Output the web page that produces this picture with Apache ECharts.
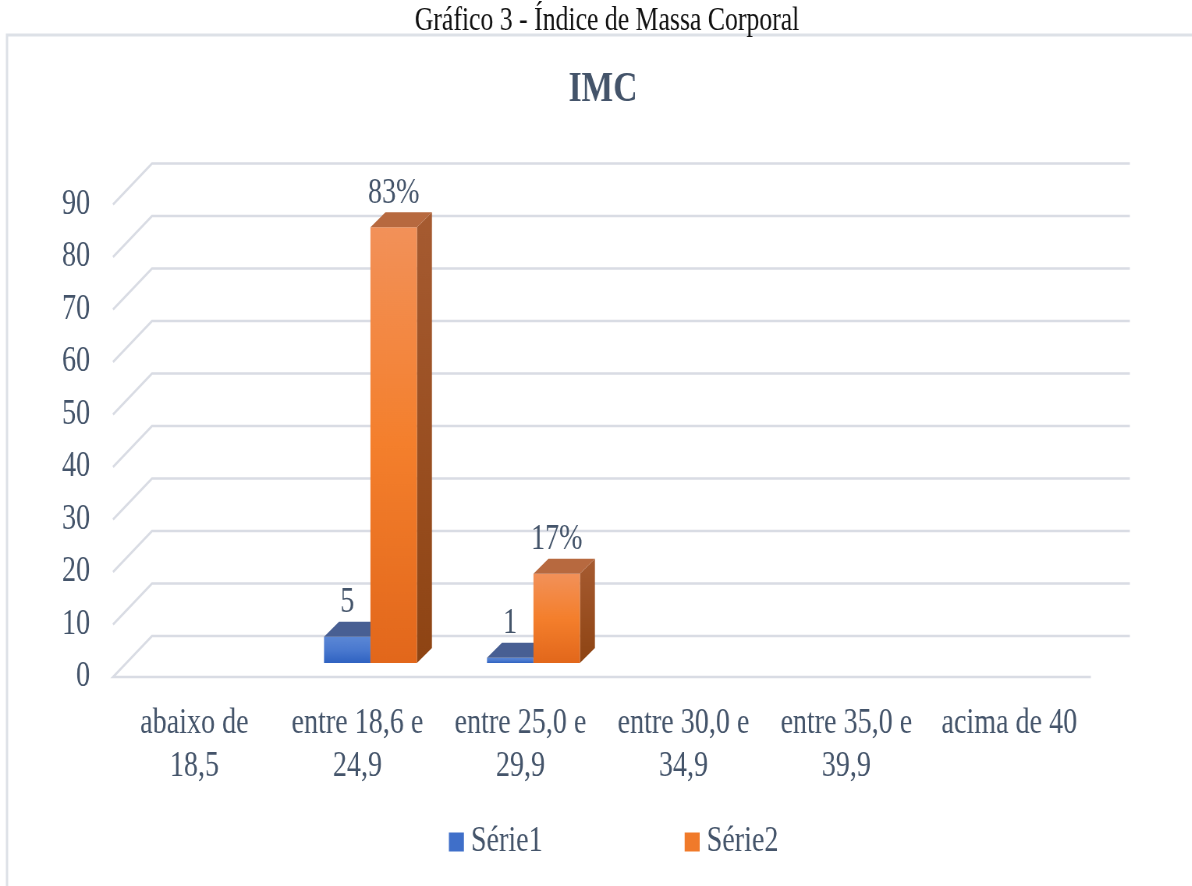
<!DOCTYPE html>
<html>
<head>
<meta charset="utf-8">
<script src="https://cdn.jsdelivr.net/npm/echarts@6/dist/echarts.min.js"></script>
<style>
  html, body { margin: 0; padding: 0; background: #fff; overflow: hidden; }
  #chart { height: 886px; transform-origin: 0 0; }
</style>
</head>
<body>
<div id="chart"></div>
<script>
// ---- data ----
const categories = [
  'abaixo de\n18,5',
  'entre 18,6 e\n24,9',
  'entre 25,0 e\n29,9',
  'entre 30,0 e\n34,9',
  'entre 35,0 e\n39,9',
  'acima de 40'
];
const serie1 = [0, 5, 1, 0, 0, 0];       // counts
const serie2 = [0, 83, 17, 0, 0, 0];     // percentages
const yTicks = [0, 10, 20, 30, 40, 50, 60, 70, 80, 90];
const seriesNames = ['Série1', 'Série2'];
const chartTitle = 'IMC';
const captionText = 'Gráfico 3 - Índice de Massa Corporal';

// ---- layout: the chart is drawn wide, then condensed horizontally ----
const SX = 0.78;
const W = 1192 / SX;
const X = px => px / SX;          // on-screen x -> drawing x
const el = document.getElementById('chart');
el.style.width = W + 'px';
el.style.transform = 'scaleX(' + SX + ')';

// ---- styling / 3D geometry ----
const FONT = "'Liberation Serif', 'Times New Roman', serif";
const TEXT = '#44546a';
const GRID_LINE = '#d9dce4';
const BACK = [X(39), 41];    // floor edge -> back wall offset
const FACE = [X(13), 14];    // floor edge -> bar front face offset
const DEPTH = [X(15), 15];   // bar thickness
const BAR_RATIO = 0.285;

const palettes = {
  blue: {
    front: ['#5b87d5', '#4a79cf', '#2f62c1'],
    side: ['#3a5a9c', '#2b4a88'],
    top: '#485f93'
  },
  orange: {
    front: ['#f29159', '#f47f2c', '#e2671b'],
    side: ['#a65b31', '#8e4413'],
    top: '#b7693f'
  }
};

function vGrad(stops) {
  return {
    type: 'linear', x: 0, y: 0, x2: 0, y2: 1,
    colorStops: stops.map((c, i) => ({ offset: i / (stops.length - 1), color: c }))
  };
}

function barRenderer(side, pal, fmt) {
  return function (params, api) {
    const v = api.value(1);
    if (!v) return null;
    const cat = api.value(0);
    const p0 = api.coord([cat, 0]);
    const p1 = api.coord([cat, v]);
    const bw = api.size([1, 0])[0] * BAR_RATIO;
    const cx = p0[0] + FACE[0];
    const x0 = side < 0 ? cx - bw : cx;
    const x1 = x0 + bw;
    const yb = p0[1] - FACE[1];
    const yt = p1[1] - FACE[1];
    const dx = DEPTH[0], dy = DEPTH[1];
    return {
      type: 'group',
      children: [
        {
          type: 'polygon',
          shape: { points: [[x1, yt], [x1 + dx, yt - dy], [x1 + dx, yb - dy], [x1, yb]] },
          style: { fill: vGrad(pal.side) }
        },
        {
          type: 'rect',
          shape: { x: x0, y: yt, width: bw, height: yb - yt },
          style: { fill: vGrad(pal.front) }
        },
        {
          type: 'polygon',
          shape: { points: [[x0, yt], [x1, yt], [x1 + dx, yt - dy], [x0 + dx, yt - dy]] },
          style: { fill: pal.top }
        },
        {
          type: 'text',
          style: {
            text: fmt(v),
            x: (x0 + x1) / 2,
            y: yt - dy - 1,
            align: 'center',
            verticalAlign: 'bottom',
            fontSize: 36,
            fontFamily: FONT,
            fill: TEXT
          }
        }
      ]
    };
  };
}

// back wall, side wall and floor lines at each tick
function wallRenderer(params, api) {
  const v = api.value(1);
  const cs = params.coordSys;
  const y = api.coord([0, v])[1];
  const xl = cs.x, xr = cs.x + cs.width;
  const bl = [xl + BACK[0], y - BACK[1]];
  const br = [xr + BACK[0], y - BACK[1]];
  const pts = v === 0 ? [[xr, y], [xl, y], bl, br] : [[xl, y], bl, br];
  return {
    type: 'polyline',
    shape: { points: pts },
    style: { stroke: GRID_LINE, lineWidth: 2.5, fill: null }
  };
}

const chart = echarts.init(el);

chart.setOption({
  backgroundColor: '#ffffff',
  animation: false,
  graphic: [
    {
      type: 'rect',
      shape: { x: X(7), y: 35, width: W, height: 900 },
      style: { fill: null, stroke: '#dde1e7', lineWidth: 3 },
      silent: true
    },
    {
      type: 'text',
      style: {
        text: captionText, x: X(607), y: 21, align: 'center', verticalAlign: 'middle',
        fontSize: 33, fontFamily: FONT, fill: '#111111'
      }
    },
    {
      type: 'text',
      style: {
        text: chartTitle, x: X(603), y: 90, align: 'center', verticalAlign: 'middle',
        fontSize: 43, fontWeight: 'bold', fontFamily: FONT, fill: TEXT
      }
    }
  ],
  grid: { left: X(113), right: W - X(1091), top: 204.5, bottom: 209, containLabel: false },
  legend: {
    data: seriesNames,
    left: X(445),
    top: 819,
    icon: 'rect',
    itemWidth: X(15),
    itemHeight: 19,
    itemGap: X(142),
    textStyle: { fontSize: 36, fontFamily: FONT, color: TEXT, padding: [0, 0, 0, 4] }
  },
  xAxis: {
    type: 'category',
    data: categories,
    axisLine: { show: false },
    axisTick: { show: false },
    splitLine: { show: false },
    axisLabel: {
      interval: 0, margin: 25, fontSize: 36, lineHeight: 43,
      fontFamily: FONT, color: TEXT
    }
  },
  yAxis: {
    type: 'value',
    min: 0,
    max: 90,
    interval: 10,
    axisLine: { show: false },
    axisTick: { show: false },
    splitLine: { show: false },
    axisLabel: { margin: X(23), fontSize: 36, fontFamily: FONT, color: TEXT }
  },
  series: [
    {
      name: 'walls',
      type: 'custom',
      silent: true,
      clip: false,
      renderItem: wallRenderer,
      data: yTicks.map(t => [0, t]),
      z: 1
    },
    {
      name: seriesNames[0],
      type: 'custom',
      clip: false,
      itemStyle: { color: '#3f6fc9' },
      renderItem: barRenderer(-1, palettes.blue, v => String(v)),
      data: serie1.map((v, i) => [i, v]),
      z: 2
    },
    {
      name: seriesNames[1],
      type: 'custom',
      clip: false,
      itemStyle: { color: '#f07a2a' },
      renderItem: barRenderer(1, palettes.orange, v => v + '%'),
      data: serie2.map((v, i) => [i, v]),
      z: 3
    }
  ]
});
</script>
</body>
</html>
